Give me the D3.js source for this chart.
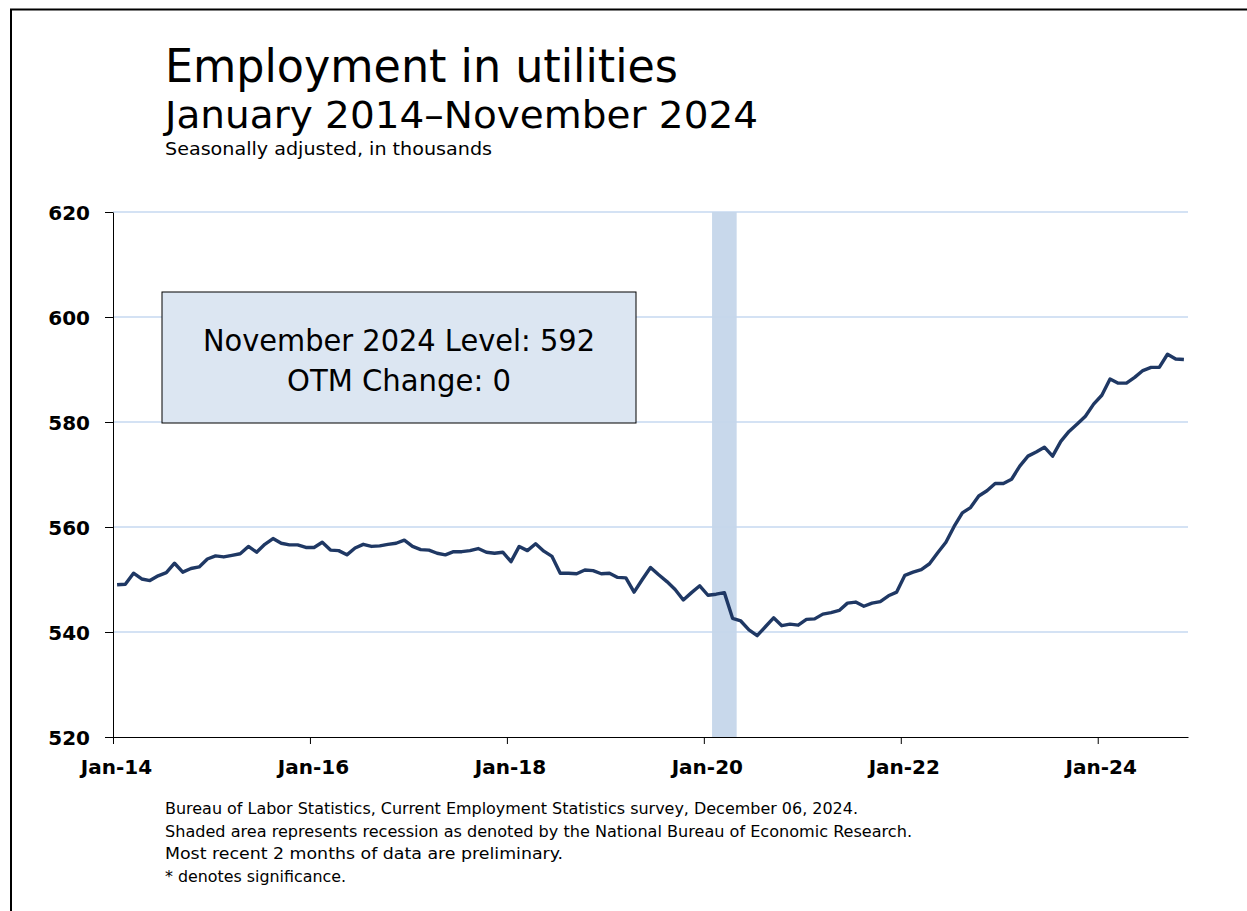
<!DOCTYPE html>
<html>
<head>
<meta charset="utf-8">
<script src="https://cdn.jsdelivr.net/npm/d3@7/dist/d3.min.js"></script>
<style>
  html, body { margin: 0; padding: 0; background: #fff; }
  svg { display: block; }
  text { font-family: "DejaVu Sans", Verdana, sans-serif; }
</style>
</head>
<body>
<svg id="chart" width="1247" height="911"></svg>
<script>
// ---- Data ----
const values = [
  549.0, 549.1, 551.2, 550.1, 549.8, 550.7, 551.3, 553.1, 551.4, 552.1, 552.4, 553.9,
  554.5, 554.3, 554.6, 554.9, 556.3, 555.2, 556.7, 557.8, 556.9, 556.6, 556.6, 556.1,
  556.1, 557.1, 555.6, 555.5, 554.7, 556.0, 556.7, 556.3, 556.4, 556.7, 556.9, 557.5,
  556.3, 555.7, 555.6, 555.0, 554.7, 555.3, 555.3, 555.5, 555.9, 555.2, 555.0, 555.2,
  553.4, 556.3, 555.5, 556.8, 555.4, 554.4, 551.2, 551.2, 551.1, 551.8, 551.7, 551.1,
  551.2, 550.4, 550.3, 547.6, 550.0, 552.3, 550.9, 549.6, 548.1, 546.1, 547.5, 548.8,
  547.0, 547.2, 547.5, 542.6, 542.1, 540.4, 539.3, 541.0, 542.7, 541.2, 541.5, 541.3,
  542.4, 542.5, 543.4, 543.7, 544.1, 545.5, 545.7, 544.9, 545.5, 545.8, 546.9, 547.6,
  550.8, 551.4, 551.9, 553.0, 555.1, 557.1, 560.1, 562.7, 563.7, 565.9, 566.9, 568.3,
  568.3, 569.1, 571.6, 573.5, 574.3, 575.2, 573.5, 576.3, 578.2, 579.6, 581.1, 583.4,
  585.1, 588.2, 587.4, 587.4, 588.5, 589.8, 590.4, 590.4, 592.9, 592.0, 591.9
];
const xTickMonths = [0, 24, 48, 72, 96, 120];
const xTickLabels = ["Jan-14", "Jan-16", "Jan-18", "Jan-20", "Jan-22", "Jan-24"];
const yTicks = [520, 540, 560, 580, 600, 620];
const recession = [73, 76]; // Feb 2020 .. Apr 2020 (month slot boundaries)
const titleText = "Employment in utilities";
const subtitleText = "January 2014\u2013November 2024";
const unitText = "Seasonally adjusted, in thousands";
const boxLines = ["November 2024 Level: 592", "OTM Change: 0"];
const notes = [
  "Bureau of Labor Statistics, Current Employment Statistics survey, December 06, 2024.",
  "Shaded area represents recession as denoted by the National Bureau of Economic Research.",
  "Most recent 2 months of data are preliminary.",
  "* denotes significance."
];

// ---- Layout ----
const svg = d3.select("#chart");
const L = 113, R = 1188, T = 212, B = 737;
const x = d3.scaleLinear().domain([0, values.length]).range([L, R]);
const y = d3.scaleLinear().domain([520, 620]).range([B, T]);

function fit(sel, w) { sel.attr("textLength", w).attr("lengthAdjust", "spacingAndGlyphs"); }

// frame
svg.append("rect").attr("x", 11).attr("y", 9.5).attr("width", 1400).attr("height", 1100)
  .attr("fill", "none").attr("stroke", "#000").attr("stroke-width", 2);

// titles
svg.append("text").attr("x", 165).attr("y", 82).attr("font-size", 46).attr("fill", "#000")
  .text(titleText).call(fit, 513);
svg.append("text").attr("x", 165).attr("y", 128).attr("font-size", 37).attr("fill", "#000")
  .text(subtitleText).call(fit, 593);
svg.append("text").attr("x", 165).attr("y", 155).attr("font-size", 18).attr("fill", "#000")
  .text(unitText).call(fit, 327);

// gridlines
svg.append("g").selectAll("line").data(yTicks.filter(d => d > 520)).join("line")
  .attr("x1", L).attr("x2", R).attr("y1", d => y(d)).attr("y2", d => y(d))
  .attr("stroke", "#c6d9f1").attr("stroke-width", 1.5);

// recession shading
svg.append("rect").attr("x", x(recession[0])).attr("y", T)
  .attr("width", x(recession[1]) - x(recession[0])).attr("height", B - T)
  .attr("fill", "#c5d6ea").attr("opacity", 0.95);

// y axis
const yAxis = svg.append("g").attr("transform", `translate(${L},0)`)
  .call(d3.axisLeft(y).tickValues(yTicks).tickSize(8).tickPadding(15).tickSizeOuter(0));
yAxis.select(".domain").attr("stroke", "#000");
yAxis.selectAll(".tick line").attr("stroke", "#000");
yAxis.selectAll("text").attr("font-size", 20).attr("font-weight", "bold")
  .attr("font-family", "'DejaVu Sans', Verdana, sans-serif").attr("fill", "#000")
  .attr("dy", "0.36em");

// x axis
const xAxis = svg.append("g").attr("transform", `translate(0,${B})`)
  .call(d3.axisBottom(x).tickValues(xTickMonths).tickSize(7).tickSizeOuter(0)
    .tickFormat((d, i) => xTickLabels[i]));
xAxis.select(".domain").attr("stroke", "#000");
xAxis.selectAll(".tick line").attr("stroke", "#000");
xAxis.selectAll("text").attr("font-size", 20).attr("font-weight", "bold")
  .attr("font-family", "'DejaVu Sans', Verdana, sans-serif").attr("fill", "#000")
  .attr("y", 37).attr("dy", 0).attr("dx", 3);

// data line
const line = d3.line().x((d, i) => x(i + 0.5)).y(d => y(d));
svg.append("path").datum(values).attr("d", line).attr("fill", "none")
  .attr("stroke", "#1f3864").attr("stroke-width", 3.4).attr("stroke-linejoin", "round");

// annotation box
svg.append("rect").attr("x", 162).attr("y", 292).attr("width", 474).attr("height", 131)
  .attr("fill", "#dce6f2").attr("stroke", "#000").attr("stroke-width", 1);
svg.append("text").attr("x", 399).attr("y", 351).attr("text-anchor", "middle")
  .attr("font-size", 30).attr("fill", "#000").text(boxLines[0]).call(fit, 392);
svg.append("text").attr("x", 399).attr("y", 391).attr("text-anchor", "middle")
  .attr("font-size", 30).attr("fill", "#000").text(boxLines[1]).call(fit, 224);

// footnotes
const noteW = [693, 747, 398, 181];
svg.append("g").selectAll("text").data(notes).join("text")
  .attr("x", 165).attr("y", (d, i) => 814 + i * 22.7)
  .attr("font-size", 16).attr("fill", "#000").text(d => d)
  .each(function (d, i) { d3.select(this).call(fit, noteW[i]); });
</script>
</body>
</html>
